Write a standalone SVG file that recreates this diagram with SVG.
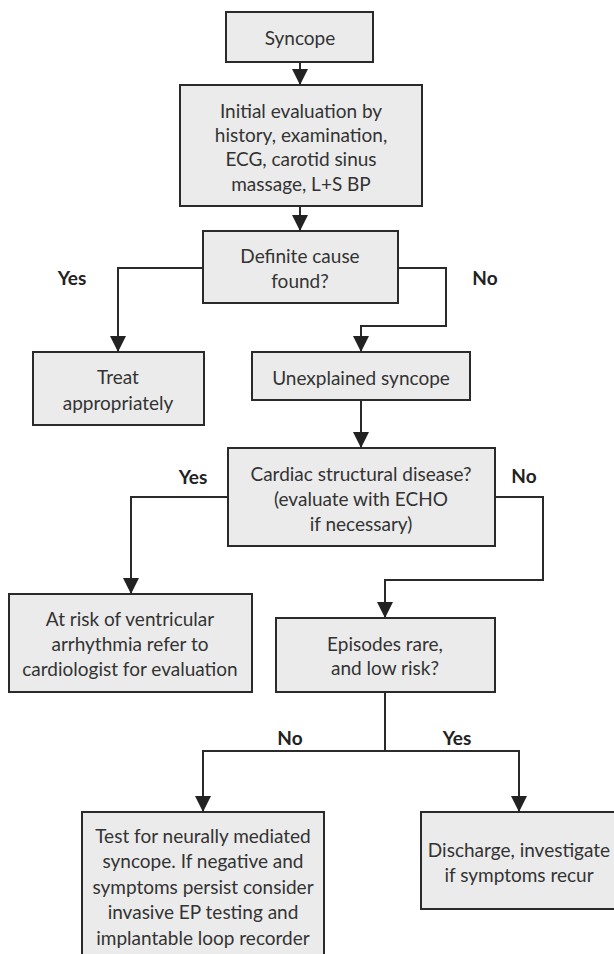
<svg xmlns="http://www.w3.org/2000/svg" width="614" height="954" viewBox="0 0 614 954">
<defs>
<marker id="arr" viewBox="0 0 16 16" refX="16" refY="8" markerWidth="16" markerHeight="16" markerUnits="userSpaceOnUse" orient="auto">
<path d="M0,0 L16,8 L0,16 z" fill="#222"/>
</marker>
<style>
.box{fill:#ebebeb;stroke:#2a2a2a;stroke-width:2}
.t{font-family:Lato,"Open Sans","Liberation Sans",sans-serif;font-size:19px;fill:#333;text-anchor:middle;dominant-baseline:central}
.lbl{font-family:Lato,"Open Sans","Liberation Sans",sans-serif;font-size:19px;font-weight:bold;fill:#222;text-anchor:middle;dominant-baseline:central}
.c{fill:none;stroke:#2a2a2a;stroke-width:2}
.a{marker-end:url(#arr)}
</style>
</defs>
<rect width="614" height="954" fill="#fff"/>
<g id="connectors">
<path class="c a" d="M300,62 V85"/>
<path class="c a" d="M300,206 V231"/>
<path class="c a" d="M203,268 H118 V352"/>
<path class="c a" d="M398,268 H446 V326 H361 V352"/>
<path class="c a" d="M361,400 V448"/>
<path class="c a" d="M228,497 H131 V594"/>
<path class="c a" d="M495,497 H543 V580 H385 V618"/>
<path class="c" d="M385,692 V751"/>
<path class="c a" d="M385,751 H203 V812"/>
<path class="c a" d="M385,751 H519 V812"/>
</g>
<g id="labels">
<text class="lbl" x="72" y="277">Yes</text>
<text class="lbl" x="485" y="277">No</text>
<text class="lbl" x="193" y="476">Yes</text>
<text class="lbl" x="524" y="475">No</text>
<text class="lbl" x="290" y="737">No</text>
<text class="lbl" x="457" y="737">Yes</text>
</g>
<g id="syncope">
<rect class="box" x="226" y="12" width="147" height="50"/>
<text class="t" x="300" y="37">Syncope</text>
</g>
<g id="initial">
<rect class="box" x="180" y="85" width="242" height="121"/>
<text class="t" x="301" y="110">Initial evaluation by</text>
<text class="t" x="301" y="134">history, examination,</text>
<text class="t" x="301" y="158">ECG, carotid sinus</text>
<text class="t" x="301" y="183">massage, L+S BP</text>
</g>
<g id="definite">
<rect class="box" x="203" y="231" width="195" height="72"/>
<text class="t" x="300" y="255">Definite cause</text>
<text class="t" x="300" y="280">found?</text>
</g>
<g id="treat">
<rect class="box" x="33" y="352" width="171" height="73"/>
<text class="t" x="118" y="376">Treat</text>
<text class="t" x="118" y="402">appropriately</text>
</g>
<g id="unexplained">
<rect class="box" x="252" y="352" width="218" height="48"/>
<text class="t" x="361" y="377">Unexplained syncope</text>
</g>
<g id="cardiac">
<rect class="box" x="228" y="448" width="267" height="98"/>
<text class="t" x="361" y="473">Cardiac structural disease?</text>
<text class="t" x="361" y="498">(evaluate with ECHO</text>
<text class="t" x="361" y="523">if necessary)</text>
</g>
<g id="atrisk">
<rect class="box" x="9" y="594" width="243" height="98"/>
<text class="t" x="130" y="618">At risk of ventricular</text>
<text class="t" x="130" y="643">arrhythmia refer to</text>
<text class="t" x="130" y="668">cardiologist for evaluation</text>
</g>
<g id="episodes">
<rect class="box" x="276" y="618" width="219" height="74"/>
<text class="t" x="385" y="643">Episodes rare,</text>
<text class="t" x="385" y="667">and low risk?</text>
</g>
<g id="test">
<rect class="box" x="82" y="812" width="242" height="160"/>
<text class="t" x="203" y="835">Test for neurally mediated</text>
<text class="t" x="203" y="860">syncope. If negative and</text>
<text class="t" x="203" y="886">symptoms persist consider</text>
<text class="t" x="203" y="911">invasive EP testing and</text>
<text class="t" x="203" y="937">implantable loop recorder</text>
</g>
<g id="discharge">
<rect class="box" x="421" y="812" width="200" height="97"/>
<text class="t" x="519" y="849">Discharge, investigate</text>
<text class="t" x="519" y="874">if symptoms recur</text>
</g>
</svg>
